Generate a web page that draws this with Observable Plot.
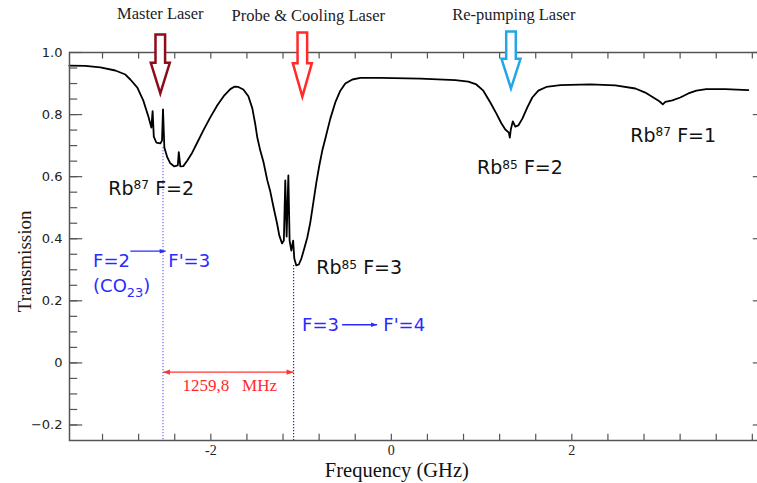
<!DOCTYPE html>
<html><head><meta charset="utf-8">
<script src="https://cdn.jsdelivr.net/npm/d3@7"></script>
<script src="https://cdn.jsdelivr.net/npm/@observablehq/plot@0.6"></script>
<style>
html,body{margin:0;padding:0;background:#fff;}
#chart{width:757px;height:483px;overflow:hidden;}
#chart svg{max-width:none !important;}
</style></head><body><div id="chart"></div>
<script>
// ---- spectrum ----
const freqGHz = [-3.568,-3.391,-3.224,-3.058,-2.947,-2.892,-2.814,-2.748,-2.692,-2.659,-2.645,-2.632,-2.604,-2.560,-2.541,-2.530,-2.515,-2.482,-2.449,-2.404,-2.366,-2.355,-2.338,-2.305,-2.260,-2.205,-2.150,-2.083,-2.006,-1.928,-1.850,-1.784,-1.740,-1.695,-1.640,-1.584,-1.540,-1.507,-1.485,-1.452,-1.418,-1.374,-1.341,-1.307,-1.266,-1.241,-1.211,-1.191,-1.175,-1.160,-1.141,-1.127,-1.108,-1.088,-1.075,-1.053,-1.025,-0.997,-0.964,-0.931,-0.898,-0.864,-0.831,-0.798,-0.765,-0.731,-0.676,-0.621,-0.565,-0.510,-0.432,-0.343,-0.122,0.321,0.709,0.853,0.942,1.019,1.097,1.163,1.219,1.263,1.302,1.313,1.324,1.346,1.374,1.407,1.452,1.507,1.562,1.629,1.717,1.873,2.205,2.482,2.704,2.814,2.903,2.970,3.008,3.036,3.114,3.202,3.291,3.380,3.490,3.701,3.956];
const transmission = [0.958,0.957,0.952,0.942,0.929,0.913,0.887,0.845,0.794,0.758,0.811,0.729,0.710,0.707,0.716,0.817,0.694,0.662,0.643,0.633,0.636,0.679,0.633,0.634,0.652,0.678,0.710,0.749,0.791,0.830,0.862,0.882,0.890,0.889,0.881,0.859,0.820,0.768,0.726,0.684,0.649,0.588,0.552,0.504,0.449,0.410,0.385,0.394,0.588,0.407,0.604,0.394,0.362,0.394,0.336,0.314,0.317,0.336,0.369,0.404,0.452,0.517,0.581,0.636,0.684,0.723,0.787,0.839,0.877,0.900,0.913,0.918,0.918,0.916,0.911,0.906,0.897,0.877,0.839,0.804,0.772,0.752,0.742,0.726,0.752,0.778,0.761,0.765,0.787,0.823,0.855,0.877,0.889,0.895,0.897,0.894,0.884,0.871,0.855,0.843,0.833,0.841,0.846,0.855,0.868,0.877,0.882,0.882,0.879];

// ---- axes ----
const xDomain = [-3.566, 4.146];
const yDomain = [-0.25, 1.0];
const xTickValues = [-3.2,-2.8,-2.4,-2,-1.6,-1.2,-0.8,-0.4,0,0.4,0.8,1.2,1.6,2,2.4,2.8,3.2,3.6,4];
const xLabelValues = [-2, 0, 2];
const xLabelTexts = ["-2", "0", "2"];
const yMajorValues = [-0.2, 0, 0.2, 0.4, 0.6, 0.8, 1.0];
const yMajorTexts = ["\u22120.2", "0", "0.2", "0.4", "0.6", "0.8", "1.0"];
const yMinorValues = [-0.2,-0.15,-0.1,-0.05,0,0.05,0.1,0.15,0.2,0.25,0.3,0.35,0.4,0.45,0.5,0.55,0.6,0.65,0.7,0.75,0.8,0.85,0.9,0.95];

// ---- annotations ----
const laserNames = ["Master Laser", "Probe & Cooling Laser", "Re-pumping Laser"];
const laserX = [-2.56, -0.986, 1.326];
const laserLabelX = [-2.56, -0.920, 1.357];
const laserLabelY = [1.109, 1.101, 1.106];
const laserTipY = [0.868, 0.858, 0.884];
const laserArrowLen = [59, 64, 57];
const laserColors = ["#8c0c1c", "#ff2b2b", "#22a6e6"];

const peakLabels = ["Rb\u2078\u2077 F=2", "Rb\u2078\u2075 F=3", "Rb\u2078\u2075 F=2", "Rb\u2078\u2077 F=1"];
const peakLabelX = [-3.136, -0.831, 0.950, 2.648];
const peakLabelY = [0.5425, 0.287, 0.609, 0.713];

const transLabels = ["F=2", "F'=3", "(CO\u2082\u2083)", "F=3", "F'=4"];
const transLabelX = [-3.305, -2.471, -3.305, -0.989, -0.089];
const transLabelY = [0.308, 0.308, 0.228, 0.102, 0.102];
const transArrowX1 = [-2.892, -0.546];
const transArrowX2 = [-2.500, -0.158];
const transArrowY = [0.360, 0.123];

const markerX = [-2.53, -1.083];
const markerTopY = [0.694, 0.314];
const markerColors = ["#6b6bff", "#1f1fd0"];
const spacingText = "1259,8\u00a0\u00a0\u00a0MHz";
const spacingY = -0.030;
const spacingLabelX = -1.790;
const spacingLabelY = -0.092;

// ---- tables ----
const spectrum = freqGHz.map((x, i) => ({x, y: transmission[i]}));
const lasers = laserNames.map((name, i) => ({name, x: laserX[i], lx: laserLabelX[i], ly: laserLabelY[i], tip: laserTipY[i], len: laserArrowLen[i], color: laserColors[i]}));
const peaks = peakLabels.map((t, i) => ({t, x: peakLabelX[i], y: peakLabelY[i]}));
const trans = transLabels.map((t, i) => ({t, x: transLabelX[i], y: transLabelY[i]}));
const transArrows = transArrowX1.map((x1, i) => ({x1, x2: transArrowX2[i], y: transArrowY[i]}));
const markers = markerX.map((x, i) => ({x, y1: markerTopY[i], y2: yDomain[0], c: markerColors[i]}));
const yMajor = yMajorValues.map((v, i) => ({v, t: yMajorTexts[i]}));
const xLab = xLabelValues.map((v, i) => ({v, t: xLabelTexts[i]}));
const midX = (markerX[0] + markerX[1]) / 2;
const spacingArrows = [{x1: midX, x2: markerX[0], rot: 180}, {x1: midX, x2: markerX[1], rot: 0}];

// custom symbols
const tickSym = (dx, dy) => ({draw(ctx, size) { const L = Math.sqrt(size / Math.PI); ctx.moveTo(0, 0); ctx.lineTo(dx * L, dy * L); }});
const headSym = {draw(ctx, size) { const L = Math.sqrt(size / Math.PI); ctx.moveTo(0, 0); ctx.lineTo(-L, -L * 0.38); ctx.lineTo(-L, L * 0.38); ctx.closePath(); }};
const hollowArrow = {draw(ctx, size) {
  const L = Math.sqrt(size / Math.PI), sw = 4.8, hw = 9.5, hh = L * 0.52;
  ctx.moveTo(0, 0); ctx.lineTo(-hw, -hh); ctx.lineTo(-sw, -hh); ctx.lineTo(-sw, -L);
  ctx.lineTo(sw, -L); ctx.lineTo(sw, -hh); ctx.lineTo(hw, -hh); ctx.closePath();
}};

const axisColor = "#555";
const serif = "Liberation Serif, Times New Roman, serif";
const sans = "DejaVu Sans, sans-serif";
const blue = "#2b2bff";
const red = "#ff3535";

const marks = [
  Plot.ruleX(markers, {x: "x", y1: "y1", y2: "y2", stroke: "c", strokeWidth: 1.2, strokeDasharray: "1.3,1.7"}),
  Plot.line(spectrum, {x: "x", y: "y", stroke: "black", strokeWidth: 1.8}),
  Plot.frame({stroke: axisColor, strokeWidth: 1.5}),
  // ticks
  Plot.dot(yMinorValues, {y: d => d, frameAnchor: "left", symbol: tickSym(1, 0), r: 7.7, fill: "none", stroke: axisColor, strokeWidth: 1.2}),
  Plot.dot(yMajorValues, {y: d => d, frameAnchor: "left", symbol: tickSym(1, 0), r: 12.7, fill: "none", stroke: axisColor, strokeWidth: 1.2}),
  Plot.dot(yMajorValues, {y: d => d, frameAnchor: "right", symbol: tickSym(-1, 0), r: 12.7, fill: "none", stroke: axisColor, strokeWidth: 1.2}),
  Plot.dot(xTickValues, {x: d => d, frameAnchor: "bottom", symbol: tickSym(0, -1), r: 6.7, fill: "none", stroke: axisColor, strokeWidth: 1.2}),
  Plot.dot(xTickValues, {x: d => d, frameAnchor: "top", symbol: tickSym(0, 1), r: 6, fill: "none", stroke: axisColor, strokeWidth: 1.2}),
  // tick labels
  Plot.text(yMajor, {y: "v", text: "t", frameAnchor: "left", dx: -7, textAnchor: "end", lineAnchor: "middle", fontFamily: sans, fontSize: 13, fill: "#222"}),
  Plot.text(xLab, {x: "v", text: "t", frameAnchor: "bottom", dy: 14.5, textAnchor: "middle", lineAnchor: "bottom", fontFamily: serif, fontSize: 14, fill: "#222"}),
  // axis titles
  Plot.text(["Transmission"], {y: 0.327, text: d => d, frameAnchor: "left", dx: -45, rotate: -90, textAnchor: "middle", lineAnchor: "middle", fontFamily: serif, fontSize: 19, fill: "#231a10"}),
  Plot.text(["Frequency (GHz)"], {x: 0.061, text: d => d, frameAnchor: "bottom", dy: 36, textAnchor: "middle", lineAnchor: "bottom", fontFamily: serif, fontSize: 20.5, fill: "#111"}),
  // laser arrows & labels
  ...lasers.map(l => Plot.dot([l], {x: "x", y: "tip", symbol: hollowArrow, r: l.len, fill: "white", stroke: l.color, strokeWidth: 2.5})),
  Plot.text(lasers, {x: "lx", y: "ly", text: "name", lineAnchor: "bottom", fontFamily: serif, fontSize: 16.5, fill: "#1c1c28"}),
  // peak labels
  Plot.text(peaks, {x: "x", y: "y", text: "t", textAnchor: "start", lineAnchor: "bottom", fontFamily: sans, fontSize: 19, fill: "#111"}),
  // transitions
  Plot.text(trans, {x: "x", y: "y", text: "t", textAnchor: "start", lineAnchor: "bottom", fontFamily: sans, fontSize: 18, fill: blue}),
  Plot.link(transArrows, {x1: "x1", x2: "x2", y1: "y", y2: "y", stroke: blue, strokeWidth: 1.4}),
  Plot.dot(transArrows, {x: "x2", y: "y", symbol: headSym, r: 6, fill: blue, stroke: "none"}),
  // spacing
  Plot.link(spacingArrows, {x1: "x1", x2: "x2", y1: spacingY, y2: spacingY, stroke: red, strokeWidth: 1.3}),
  Plot.dot(spacingArrows, {x: "x2", y: spacingY, symbol: headSym, rotate: "rot", r: 7, fill: red, stroke: "none"}),
  Plot.text([spacingText], {x: spacingLabelX, y: spacingLabelY, text: d => d, lineAnchor: "bottom", fontFamily: serif, fontSize: 17, fill: "#ff2a2a"})
];

const chart = Plot.plot({
  width: 770, height: 483,
  marginLeft: 69, marginRight: 5, marginTop: 52, marginBottom: 43,
  x: {domain: xDomain, axis: null},
  y: {domain: yDomain, axis: null},
  style: {background: "white", overflow: "visible"},
  marks
});
document.getElementById("chart").appendChild(chart);

// render Unicode super/subscript digits as raised/lowered tspans
const SUP = "\u2070\u00b9\u00b2\u00b3\u2074\u2075\u2076\u2077\u2078\u2079";
const SUB = "\u2080\u2081\u2082\u2083\u2084\u2085\u2086\u2087\u2088\u2089";
chart.querySelectorAll("text").forEach(t => {
  const s = t.textContent;
  if (![...s].some(c => SUP.includes(c) || SUB.includes(c))) return;
  const fs = parseFloat(getComputedStyle(t).fontSize);
  const runs = [];
  for (const c of s) {
    const k = SUP.includes(c) ? "p" : SUB.includes(c) ? "b" : "n";
    const ch = k === "p" ? String(SUP.indexOf(c)) : k === "b" ? String(SUB.indexOf(c)) : c;
    if (runs.length && runs[runs.length - 1].k === k) runs[runs.length - 1].s += ch;
    else runs.push({k, s: ch});
  }
  t.textContent = "";
  let shift = 0;
  for (const r of runs) {
    const target = r.k === "p" ? -0.27 * fs : r.k === "b" ? 0.28 * fs : 0;
    const ts = document.createElementNS("http://www.w3.org/2000/svg", "tspan");
    if (target !== shift) ts.setAttribute("dy", (target - shift).toFixed(2));
    shift = target;
    if (r.k === "p") ts.setAttribute("font-size", (0.64 * fs).toFixed(1));
    if (r.k === "b") ts.setAttribute("font-size", (0.72 * fs).toFixed(1));
    ts.textContent = r.s;
    t.appendChild(ts);
  }
});
</script></body></html>
